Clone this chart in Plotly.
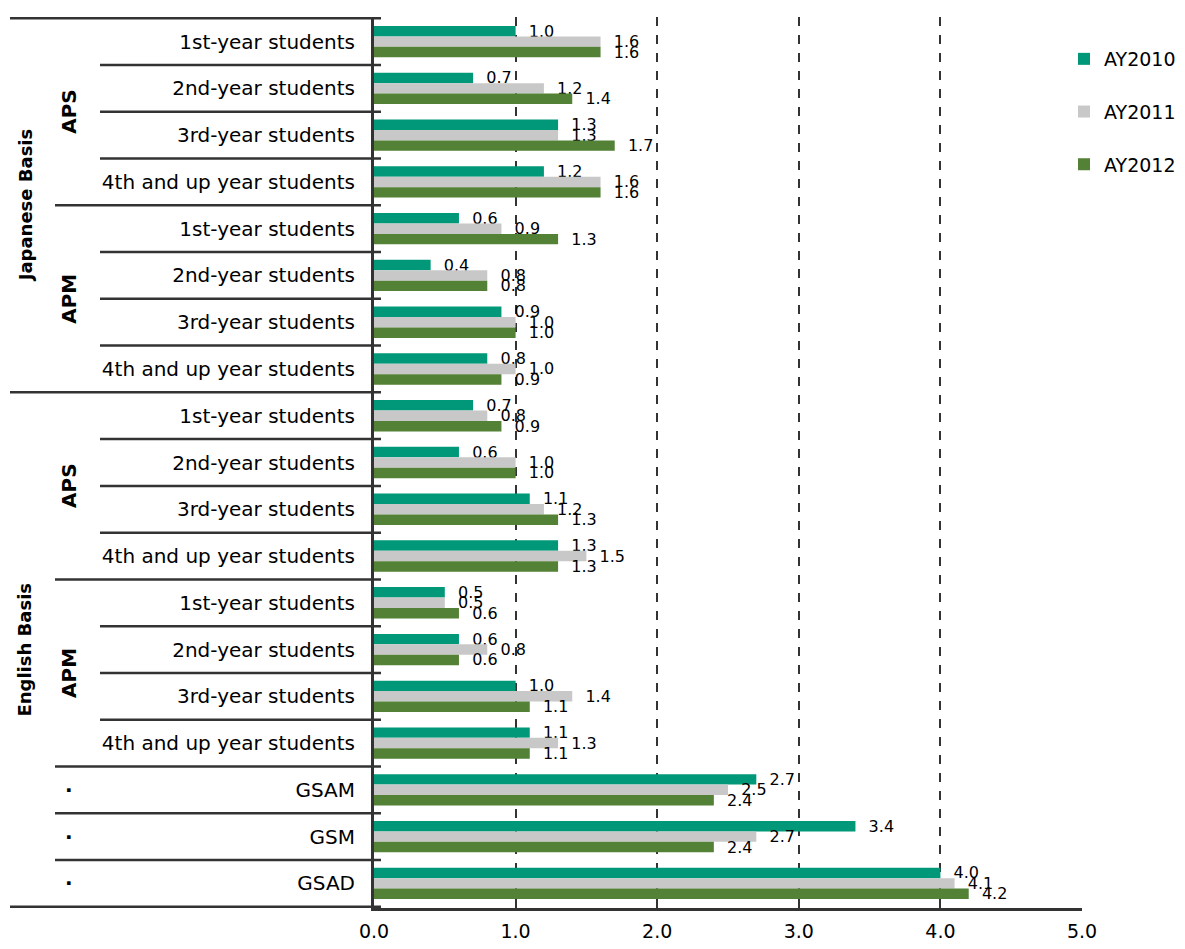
import plotly.graph_objects as go

# ---- data ----
row_labels = ["1st-year students", "2nd-year students", "3rd-year students", "4th and up year students",
              "1st-year students", "2nd-year students", "3rd-year students", "4th and up year students",
              "1st-year students", "2nd-year students", "3rd-year students", "4th and up year students",
              "1st-year students", "2nd-year students", "3rd-year students", "4th and up year students",
              "GSAM", "GSM", "GSAD"]
row_keys = ["JP-APS-1", "JP-APS-2", "JP-APS-3", "JP-APS-4",
            "JP-APM-1", "JP-APM-2", "JP-APM-3", "JP-APM-4",
            "EN-APS-1", "EN-APS-2", "EN-APS-3", "EN-APS-4",
            "EN-APM-1", "EN-APM-2", "EN-APM-3", "EN-APM-4",
            "GSAM", "GSM", "GSAD"]
ay2010 = [1.0, 0.7, 1.3, 1.2, 0.6, 0.4, 0.9, 0.8, 0.7, 0.6, 1.1, 1.3, 0.5, 0.6, 1.0, 1.1, 2.7, 3.4, 4.0]
ay2011 = [1.6, 1.2, 1.3, 1.6, 0.9, 0.8, 1.0, 1.0, 0.8, 1.0, 1.2, 1.5, 0.5, 0.8, 1.4, 1.3, 2.5, 2.7, 4.1]
ay2012 = [1.6, 1.4, 1.7, 1.6, 1.3, 0.8, 1.0, 0.9, 0.9, 1.0, 1.3, 1.3, 0.6, 0.6, 1.1, 1.1, 2.4, 2.4, 4.2]
series_names = ["AY2010", "AY2011", "AY2012"]
series_colors = ["#009878", "#C8C8C8", "#538135"]

basis_groups = [("Japanese Basis", 0, 8), ("English Basis", 8, 19)]
program_groups = [("APS", 0, 4), ("APM", 4, 8), ("APS", 8, 12), ("APM", 12, 16),
                  ("·", 16, 17), ("·", 17, 18), ("·", 18, 19)]
x_ticks = [0, 1, 2, 3, 4, 5]

# ---- layout geometry (page pixels; page body has an 8px margin) ----
OFF = 8
W, H = 1185 - 2 * OFF, 949 - 2 * OFF
PLOT_L, PLOT_R, PLOT_T, PLOT_B = 374, 1082, 17, 908
L = PLOT_L - OFF
R = W + OFF - PLOT_R
T = PLOT_T - OFF
B = H + OFF - PLOT_B
PW = PLOT_R - PLOT_L
PH = PLOT_B - PLOT_T


def px2paper(px):
    return (px - PLOT_L) / PW


FONT = "DejaVu Sans"
LINE_C = "#333333"

fig = go.Figure()
for name, vals, col in zip(series_names, [ay2010, ay2011, ay2012], series_colors):
    fig.add_trace(go.Bar(
        y=row_keys, x=vals, name=name, orientation="h",
        marker=dict(color=col, line=dict(width=0)),
        texttemplate="\u00a0\u00a0%{x:.1f}", textposition="outside",
        textfont=dict(family=FONT, size=16, color="#000000"),
        constraintext="none", cliponaxis=False, legendgroup=name,
    ))

# separators on the left hierarchy
starts_basis = {s for _, s, _ in basis_groups} | {len(row_keys)}
starts_prog = {s for _, s, _ in program_groups}
shapes = []
for b in range(len(row_keys) + 1):
    if b in starts_basis or b == 0:
        x0 = px2paper(10)
    elif b in starts_prog:
        x0 = px2paper(55)
    else:
        x0 = px2paper(100)
    shapes.append(dict(type="line", xref="paper", yref="y", x0=x0, x1=px2paper(381),
                       y0=b - 0.5, y1=b - 0.5, line=dict(color=LINE_C, width=2.5), layer="above"))

annotations = []
for name, s, e in basis_groups:
    annotations.append(dict(text=f"<b>{name}</b>", xref="paper", yref="y", x=px2paper(25), y=(s + e - 1) / 2,
                            textangle=-90, showarrow=False, font=dict(family=FONT, size=18, color="#000"),
                            xanchor="center", yanchor="middle"))
for name, s, e in program_groups:
    annotations.append(dict(text=f"<b>{name}</b>", xref="paper", yref="y", x=px2paper(69), y=(s + e - 1) / 2,
                            textangle=-90 if name != "·" else 0, showarrow=False,
                            font=dict(family=FONT, size=20, color="#000"),
                            xanchor="center", yanchor="middle"))

fig.update_layout(
    width=W, height=H,
    margin=dict(l=L, r=R, t=T, b=B, pad=0, autoexpand=False),
    paper_bgcolor="white", plot_bgcolor="white",
    barmode="group", bargap=0.33, bargroupgap=0.0,
    font=dict(family=FONT, color="#000"),
    shapes=shapes, annotations=annotations,
    legend=dict(x=px2paper(1064), y=1 - (40 - PLOT_T) / PH, xanchor="left", yanchor="top",
                font=dict(family=FONT, size=19, color="#000"), traceorder="grouped",
                tracegroupgap=25, bgcolor="rgba(0,0,0,0)", itemwidth=30),
    xaxis=dict(range=[0, 5], tickvals=x_ticks, tickformat=".1f", showgrid=True,
               gridcolor=LINE_C, griddash="dash", gridwidth=2, zeroline=False,
               showline=True, linecolor=LINE_C, linewidth=2.5, ticks="",
               tickfont=dict(family=FONT, size=19, color="#000"), ticklabelstandoff=4),
    yaxis=dict(type="category", categoryorder="array", categoryarray=row_keys, autorange="reversed",
               tickvals=row_keys, ticktext=row_labels, showgrid=False, zeroline=False,
               showline=True, linecolor=LINE_C, linewidth=3, ticks="",
               tickfont=dict(family=FONT, size=20, color="#000"), ticklabelstandoff=12),
)

fig.write_html("out.html")
